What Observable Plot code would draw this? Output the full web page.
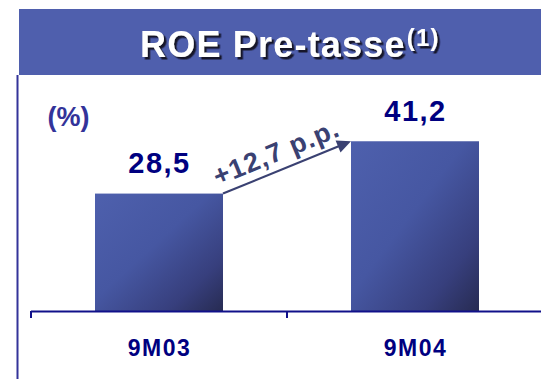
<!DOCTYPE html>
<html>
<head>
<meta charset="utf-8">
<script src="https://cdn.jsdelivr.net/npm/d3@7"></script>
<script src="https://cdn.jsdelivr.net/npm/@observablehq/plot@0.6"></script>
<style>
  html, body { margin: 0; padding: 0; background: #ffffff; }
  #chart { width: 541px; height: 379px; overflow: hidden; }
  .vlab text { letter-spacing: 1.5px; }
  .xlab text { letter-spacing: 1.5px; }
</style>
</head>
<body>
<div id="chart"></div>
<script>
// ---- data ----
const categories = ["9M03", "9M04"];
const roe = [28.5, 41.2];
const valueLabels = ["28,5", "41,2"];
const deltaLabel = "+12,7 p.p.";
const titleText = "ROE Pre-tasse";
const titleNote = "(1)";
const unitLabel = "(%)";

const data = categories.map((c, i) => ({cat: c, v: roe[i], label: valueLabels[i]}));
const FONT = "'Liberation Sans', Arial, sans-serif";

// banner, frame line and gradient definition
function bannerMark() {
  const g = d3.create("svg:g");
  const defs = g.append("defs");
  const grad = defs.append("linearGradient")
    .attr("id", "barGrad")
    .attr("x1", 0).attr("y1", 0).attr("x2", 1).attr("y2", 1);
  grad.append("stop").attr("offset", "0%").attr("stop-color", "#4e60ad");
  grad.append("stop").attr("offset", "45%").attr("stop-color", "#4657a2");
  grad.append("stop").attr("offset", "78%").attr("stop-color", "#373f7d");
  grad.append("stop").attr("offset", "100%").attr("stop-color", "#272b52");
  const filt = defs.append("filter").attr("id", "titleShadow")
    .attr("x", "-10%").attr("y", "-20%").attr("width", "130%").attr("height", "150%");
  filt.append("feDropShadow").attr("dx", 2.5).attr("dy", 2.5).attr("stdDeviation", 0.4)
    .attr("flood-color", "#15152c").attr("flood-opacity", 1);

  g.append("rect").attr("x", 19).attr("y", 9).attr("width", 522).attr("height", 66).attr("fill", "#4f5fad");
  g.append("line").attr("x1", 17.5).attr("x2", 17.5).attr("y1", 75).attr("y2", 379)
    .attr("stroke", "#333399").attr("stroke-width", 2);

  const t = g.append("text")
    .attr("x", 140).attr("y", 57)
    .attr("text-anchor", "start")
    .attr("font-family", FONT).attr("font-weight", "bold")
    .attr("font-size", 36).attr("letter-spacing", "1.2px")
    .attr("fill", "#ffffff")
    .attr("filter", "url(#titleShadow)");
  t.append("tspan").text(titleText);
  t.append("tspan").attr("font-size", 24).attr("dy", -11).attr("dx", 1).text(titleNote);
  return g.node();
}

// ticks at band boundaries
function boundaryTicks(index, scales) {
  const x = scales.x, y = scales.y;
  const bw = typeof x.bandwidth === "function" ? x.bandwidth() : 0;
  const step = typeof x.step === "function" ? x.step() : bw * 2;
  const g = d3.create("svg:g");
  const y0 = y(0);
  categories.forEach(c => {
    const xb = x(c) + bw / 2 - step / 2;
    g.append("line").attr("x1", xb).attr("x2", xb).attr("y1", y0).attr("y2", y0 + 7)
      .attr("stroke", "#10108a").attr("stroke-width", 2);
  });
  return g.node();
}

// arrow between bar tops with its label
function deltaArrow(index, scales) {
  const x = scales.x, y = scales.y;
  const bw = typeof x.bandwidth === "function" ? x.bandwidth() : 0;
  const x1 = x(categories[0]) + bw, y1 = y(roe[0]);
  const x2 = x(categories[1]), y2 = y(roe[1]);
  const dx = x2 - x1, dy = y2 - y1;
  const len = Math.hypot(dx, dy);
  const ux = dx / len, uy = dy / len;
  const headL = 14, headW = 6.5;
  const bx = x2 - ux * headL, by = y2 - uy * headL;
  const color = "#3a4172";
  const g = d3.create("svg:g");
  g.append("line").attr("x1", x1).attr("y1", y1).attr("x2", bx + ux * 2).attr("y2", by + uy * 2)
    .attr("stroke", color).attr("stroke-width", 2.2);
  const nx = uy, ny = -ux; // normal pointing up
  g.append("path")
    .attr("d", `M${x2},${y2}L${bx + nx * headW},${by + ny * headW}L${bx - nx * headW},${by - ny * headW}Z`)
    .attr("fill", color);
  const angle = Math.atan2(dy, dx) * 180 / Math.PI;
  const mx = x1 + dx * 0.47 + nx * 9, my = y1 + dy * 0.47 + ny * 9;
  g.append("text")
    .attr("transform", `translate(${mx},${my}) rotate(${angle})`)
    .attr("text-anchor", "middle")
    .attr("font-family", FONT).attr("font-weight", "bold").attr("font-size", 27)
    .attr("letter-spacing", "1px")
    .attr("fill", color)
    .text(deltaLabel);
  return g.node();
}

const chart = Plot.plot({
  width: 541,
  height: 379,
  marginTop: 105,
  marginBottom: 68,
  marginLeft: 31,
  marginRight: 0,
  style: {fontFamily: FONT, background: "transparent", overflow: "visible"},
  x: {domain: categories, range: [31, 543], paddingInner: 0.5, paddingOuter: 0.25, axis: null},
  y: {domain: [0, 50], axis: null},
  marks: [
    bannerMark,
    Plot.barY(data, {x: "cat", y: "v", fill: "url(#barGrad)"}),
    Plot.ruleY([0], {stroke: "#10108a", strokeWidth: 2}),
    boundaryTicks,
    deltaArrow,
    Plot.text(data, {x: "cat", y: "v", text: "label", dy: -21, lineAnchor: "bottom",
      fill: "#000080", fontSize: 29, fontWeight: "bold", className: "vlab"}),
    Plot.text(data, {x: "cat", y: d => 0, text: "cat", dy: 44, lineAnchor: "bottom",
      fill: "#000080", fontSize: 23, fontWeight: "bold", className: "xlab"}),
    Plot.text([unitLabel], {frameAnchor: "top-left", text: d => d, dx: 16, dy: 20, lineAnchor: "bottom",
      fill: "#333399", fontSize: 27, fontWeight: "bold"})
  ]
});
document.getElementById("chart").appendChild(chart);
</script>
</body>
</html>
